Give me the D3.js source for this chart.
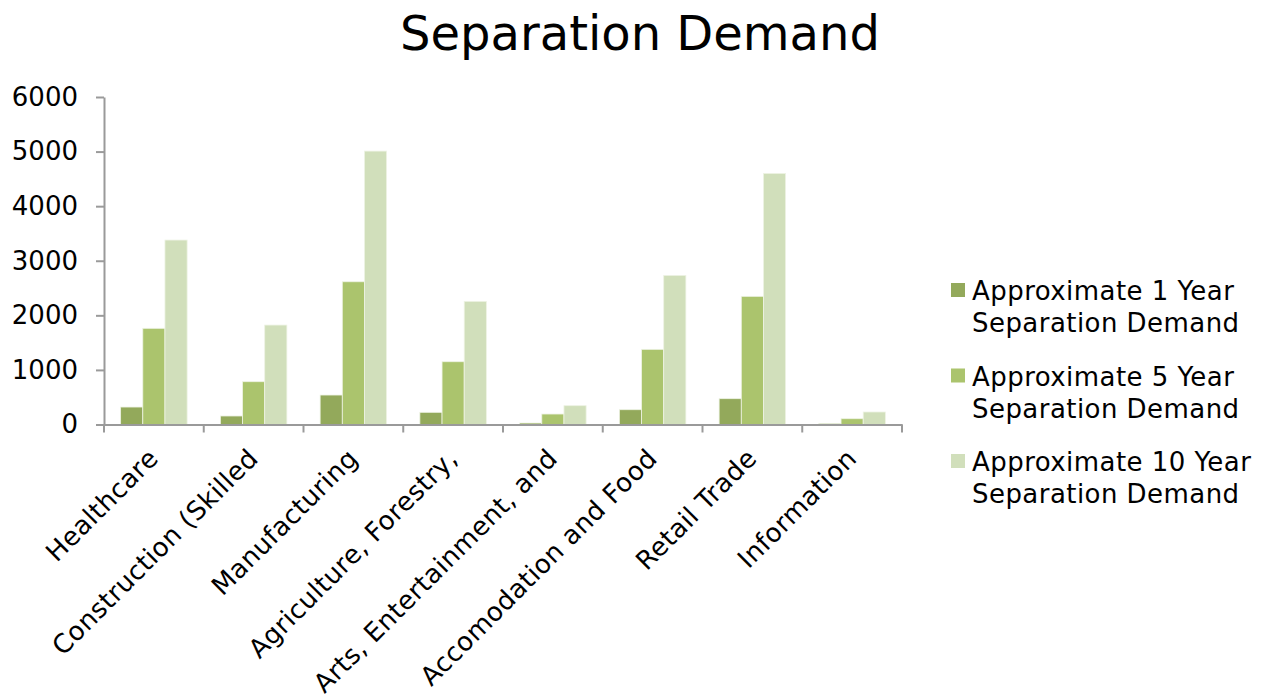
<!DOCTYPE html>
<html>
<head>
<meta charset="utf-8">
<script src="https://cdn.jsdelivr.net/npm/d3@7"></script>
<style>
  body { margin: 0; background: #fff; }
  text { font-family: "DejaVu Sans", Verdana, sans-serif; fill: #000; }
</style>
</head>
<body>
<script>
// data
var categories = ["Healthcare", "Construction (Skilled", "Manufacturing", "Agriculture, Forestry,",
    "Arts, Entertainment, and", "Accomodation and Food", "Retail Trade", "Information"];
var seriesNames = ["Approximate 1 Year Separation Demand", "Approximate 5 Year Separation Demand",
    "Approximate 10 Year Separation Demand"];
var year1 = [320, 156, 540, 223, 27, 271, 473, 20];
var year5 = [1762, 784, 2615, 1150, 192, 1377, 2348, 106];
var year10 = [3379, 1822, 5009, 2256, 345, 2732, 4600, 229];
var yTicks = [0, 1000, 2000, 3000, 4000, 5000, 6000];
var colours = ["#93a95b", "#abc46d", "#d1dfbb"];

var series = [year1, year5, year10];

var width = 1269;
var height = 694;

var svg = d3.select("body")
    .append("svg")
    .attr("width", width)
    .attr("height", height);

// plot area
var plotLeft = 104, plotRight = 902, plotTop = 97, plotBottom = 424.5;

var x = d3.scaleBand()
    .domain(categories)
    .range([plotLeft, plotRight])
    .paddingInner(0)
    .paddingOuter(0);

var xInner = d3.scaleBand()
    .domain([0, 1, 2])
    .range([x.bandwidth() / 6, x.bandwidth() * 5 / 6]);

var y = d3.scaleLinear()
    .domain([0, 6000])
    .range([plotBottom, plotTop]);

// title
svg.append("text")
    .attr("x", 640)
    .attr("y", 50)
    .attr("text-anchor", "middle")
    .style("font-size", "48px")
    .text("Separation Demand");

// bars
var groups = svg.selectAll(".group")
    .data(categories)
    .enter().append("g")
    .attr("class", "group")
    .attr("transform", function(d) { return "translate(" + x(d) + ",0)"; });

groups.selectAll("rect")
    .data(function(d, i) { return series.map(function(s, j) { return {s: j, v: s[i]}; }); })
    .enter().append("rect")
    .attr("x", function(d) { return xInner(d.s); })
    .attr("width", xInner.bandwidth())
    .attr("y", function(d) { return y(d.v); })
    .attr("height", function(d) { return plotBottom - y(d.v); })
    .attr("fill", function(d) { return colours[d.s]; })
    .attr("stroke", "#eef3e4")
    .attr("stroke-width", 0.8);

// y axis
var yAxis = svg.append("g")
    .attr("transform", "translate(" + plotLeft + ",0)")
    .call(d3.axisLeft(y).tickValues(yTicks).tickFormat(d3.format("d"))
        .tickSize(8).tickPadding(18).tickSizeOuter(0));

yAxis.select(".domain").attr("stroke", "#9a9a9a").attr("stroke-width", 2);
yAxis.selectAll(".tick line").attr("stroke", "#9a9a9a").attr("stroke-width", 2);
yAxis.selectAll(".tick text")
    .style("font-size", "26px")
    .style("font-family", "'DejaVu Sans', Verdana, sans-serif")
    .attr("fill", "#000");

// x axis
var xAxis = svg.append("g")
    .attr("transform", "translate(0," + plotBottom + ")")
    .call(d3.axisBottom(x).tickSize(0).tickSizeOuter(0).tickFormat(""));

xAxis.select(".domain").attr("stroke", "#9a9a9a").attr("stroke-width", 2);
xAxis.selectAll(".tick").remove();

// x ticks at band edges
var edges = categories.map(function(c) { return x(c); }).concat([plotRight]);
xAxis.selectAll(".edge")
    .data(edges)
    .enter().append("line")
    .attr("class", "edge")
    .attr("x1", function(d) { return d; })
    .attr("x2", function(d) { return d; })
    .attr("y1", 0)
    .attr("y2", 8)
    .attr("stroke", "#9a9a9a")
    .attr("stroke-width", 2);

// category labels
svg.selectAll(".xlabel")
    .data(categories)
    .enter().append("text")
    .attr("class", "xlabel")
    .attr("text-anchor", "end")
    .attr("transform", function(d) {
        return "translate(" + (x(d) + x.bandwidth() / 2 + 6) + "," + 460 + ") rotate(-45)";
    })
    .style("font-size", "26px")
    .style("letter-spacing", "0.4px")
    .text(function(d) { return d; });

// legend
var legend = svg.selectAll(".legend")
    .data(seriesNames)
    .enter().append("g")
    .attr("class", "legend")
    .attr("transform", function(d, i) { return "translate(951," + (283 + i * 85.5) + ")"; });

legend.append("rect")
    .attr("width", 14)
    .attr("height", 14)
    .attr("fill", function(d, i) { return colours[i]; });

legend.append("text")
    .attr("x", 21)
    .attr("y", 17)
    .style("font-size", "26px")
    .style("letter-spacing", "0.45px")
    .each(function(d) {
        var words = d.split(" ");
        var el = d3.select(this);
        el.append("tspan").attr("x", 21).text(words.slice(0, 3).join(" "));
        el.append("tspan").attr("x", 21).attr("dy", 32).text(words.slice(3).join(" "));
    });
</script>
</body>
</html>
